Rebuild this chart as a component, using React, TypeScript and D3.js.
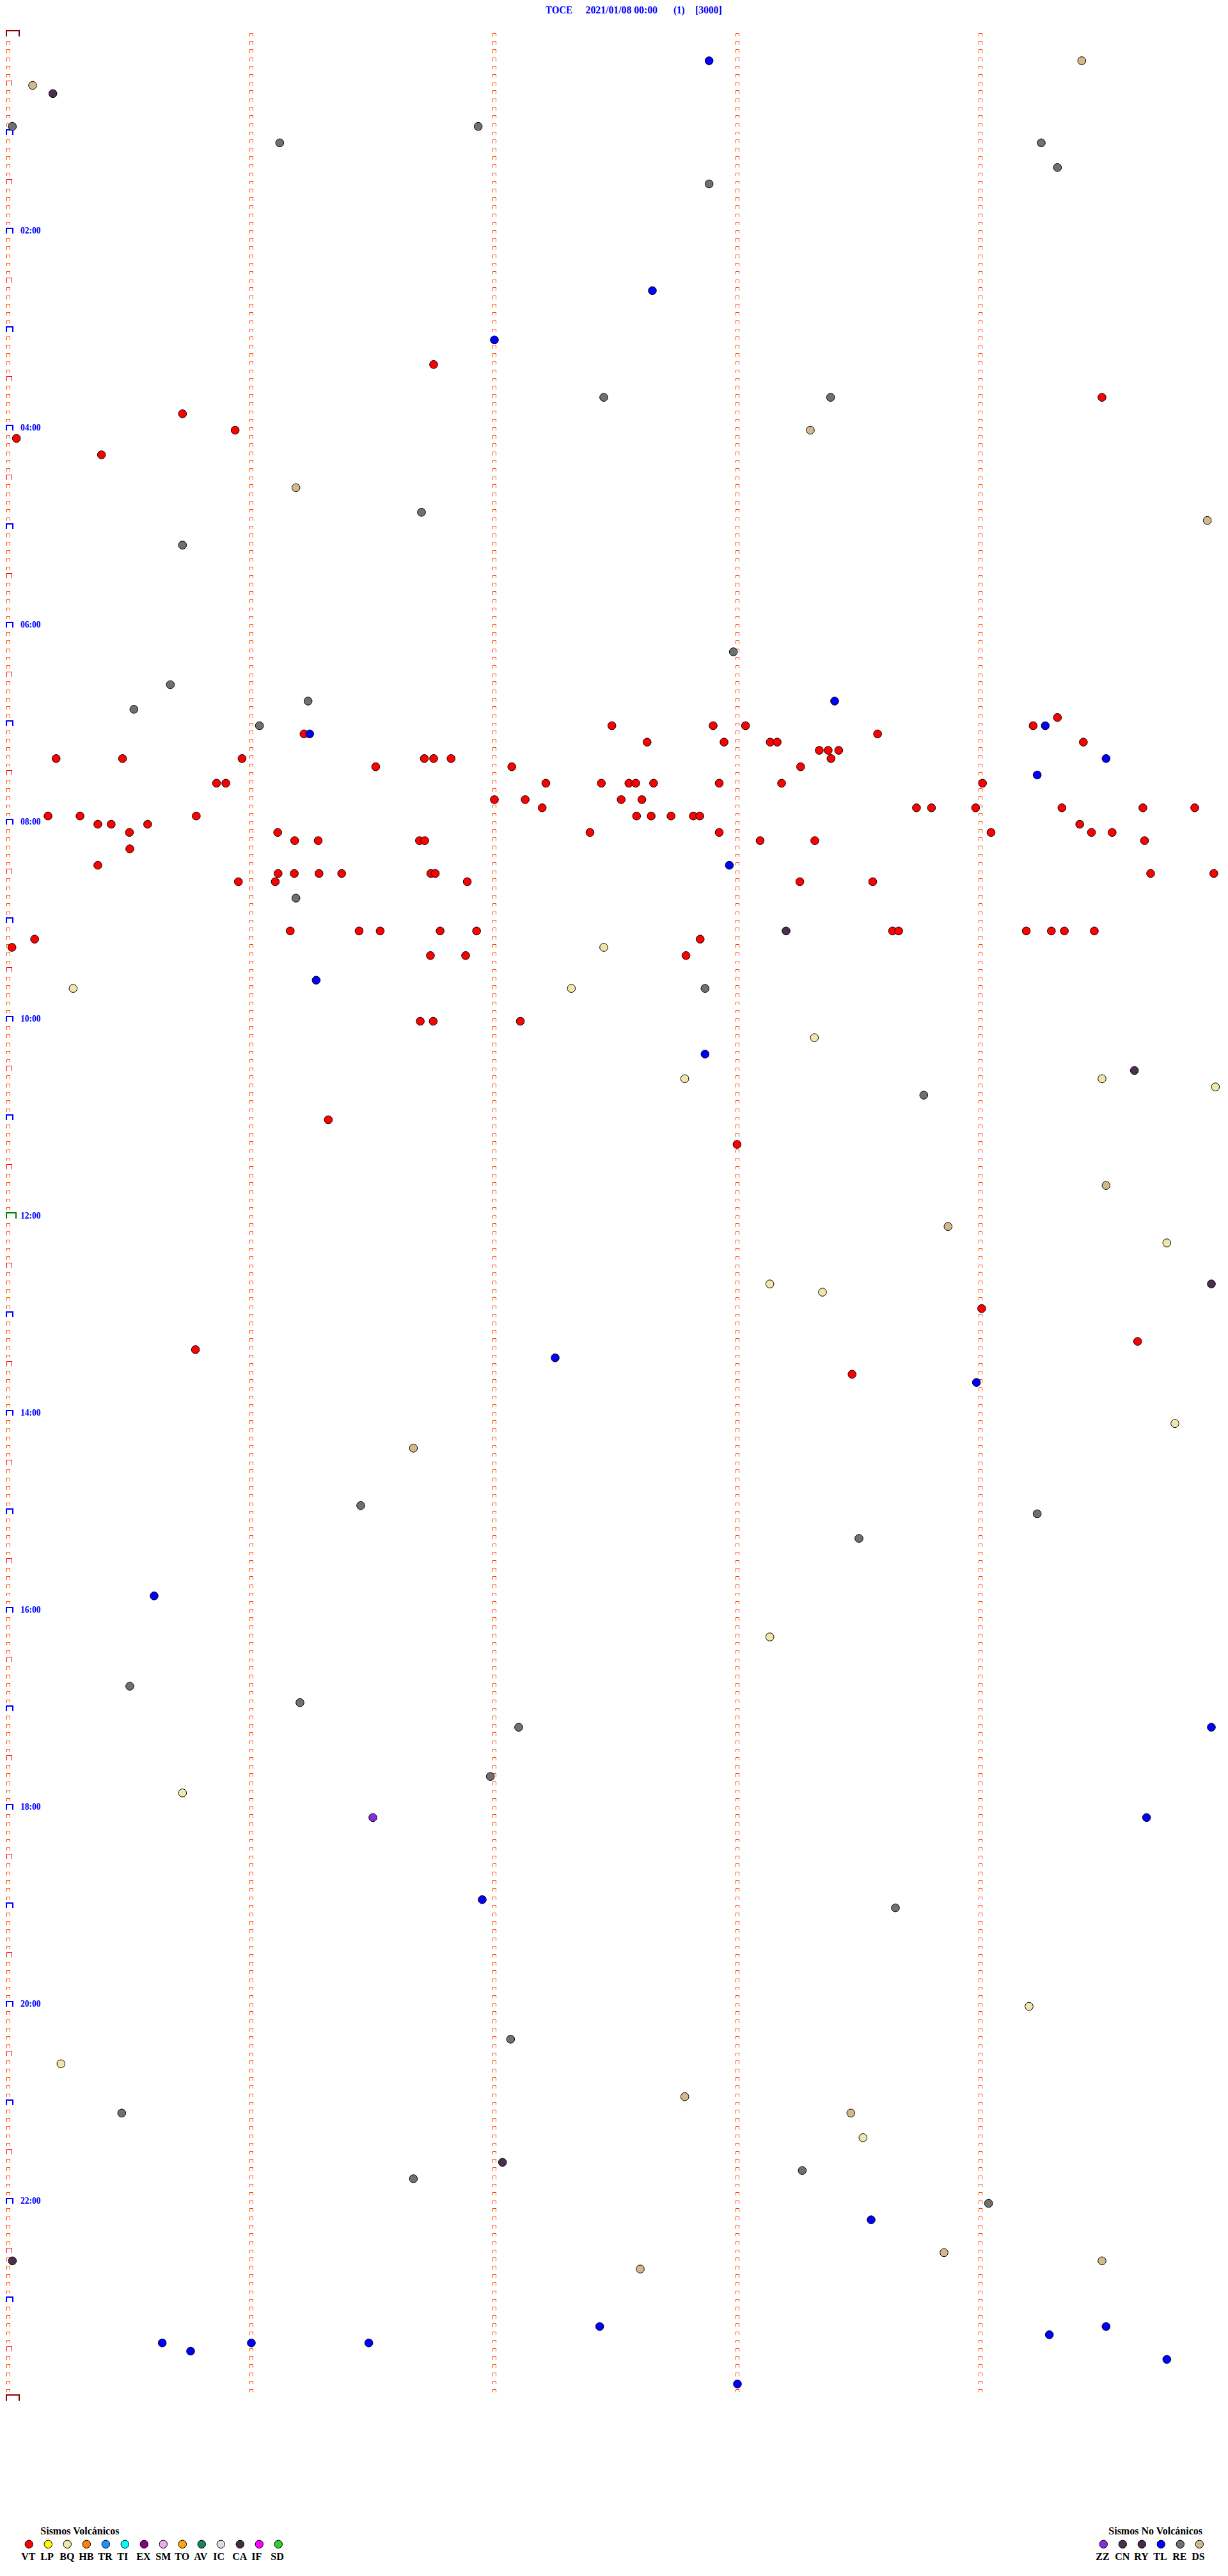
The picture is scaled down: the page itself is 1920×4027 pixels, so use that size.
import React from "react";
import * as d3 from "d3";

// ---------- Title ----------
const TITLE_PARTS = ["TOCE", "2021/01/08 00:00", "(1)", "[3000]"];

// ---------- Legend ----------
const VOLC_TYPES = ["VT", "LP", "BQ", "HB", "TR", "TI", "EX", "SM", "TO", "AV", "IC", "CA", "IF", "SD"];
const VOLC_COLORS = ["#ff0000", "#ffff00", "#f0e6a8", "#ff8000", "#1e90ff", "#00ffff", "#8b008b", "#eeaaee", "#ffa500", "#1e8060", "#dcdcdc", "#4b2a4b", "#ff00ff", "#32cd32"];
const NOVOLC_TYPES = ["ZZ", "CN", "RY", "TL", "RE", "DS"];
const NOVOLC_COLORS = ["#8a2be2", "#4a304a", "#4a2850", "#0000ff", "#707070", "#d2b98c"];

// ---------- Axis labels ----------
const HOUR_LABELS = ["02:00", "04:00", "06:00", "08:00", "10:00", "12:00", "14:00", "16:00", "18:00", "20:00", "22:00"];

// ---------- Events (time of day) ----------
const VT = [
  "03:21:45", "03:44:30", "03:50:43", "04:00:56", "04:05:02", "04:15:23",
  "06:59:19",
  "07:02:29", "07:02:54", "07:03:02", "07:04:13",
  "07:06:13", "07:08:34.6",
  "07:12:37.7", "07:12:56.7", "07:13:08.1", "07:13:09.8", "07:14:25.4",
  "07:18:20.2", "07:18:22.4", "07:18:25",
  "07:20:11.8", "07:20:28.2", "07:20:57.7", "07:21:42.7", "07:21:45", "07:21:49.3", "07:23:23.1",
  "07:26:30.7", "07:27:04.3", "07:28:15.6",
  "07:35:51.4", "07:35:53.7", "07:37:12.7", "07:37:26.4", "07:37:33.2", "07:37:34.9", "07:37:39.3", "07:37:55.5", "07:38:10.9", "07:39:00.5",
  "07:47:00", "07:47:07.6", "07:47:31.3", "07:47:36.4",
  "07:52:11.8", "07:53:44.2", "07:53:47.9", "07:53:58.8", "07:54:20.1", "07:54:40.1", "07:54:52.9",
  "07:55:09.8", "07:55:17.7", "07:55:46.4", "07:57:35.1", "07:57:38.7", "07:57:43.6", "07:57:49.1", "07:57:50.7",
  "08:00:22.1", "08:00:25.4", "08:00:34.4", "08:04:24.5",
  "08:05:29.9", "08:06:06.5", "08:07:23.6", "08:07:55.5", "08:09:02.6", "08:09:27.4", "08:09:32.5",
  "08:11:10.7", "08:11:16.5", "08:11:41.5", "08:11:42.8", "08:13:05.6", "08:13:19.1", "08:14:40.5",
  "08:15:30",
  "08:25:22.1",
  "08:31:06.6", "08:31:10.6", "08:31:16.7", "08:31:22.3", "08:31:44.3", "08:31:45.4", "08:34:42", "08:34:57.6",
  "08:35:56.8", "08:36:05.9", "08:36:53.3", "08:38:15.4", "08:38:33.4",
  "09:06:09.6", "09:06:26.6", "09:06:31.8", "09:06:46.6", "09:06:55.6", "09:08:38.3", "09:08:39.8", "09:09:11.3", "09:09:17.5", "09:09:20.7", "09:09:28.1",
  "09:10:06.5", "09:12:50.8",
  "09:15:00.9",
  "09:21:44.2", "09:21:52.9", "09:22:47.3",
  "10:01:41.7", "10:01:44.9", "10:02:06.4",
  "11:01:19", "11:17:59.9", "12:59:00.3", "13:19:38.8", "13:20:46.2", "13:38:28.3",
];

const BQ = [
  "09:17:27", "09:40:16", "09:42:19", "10:13:19", "10:37:47", "10:39:30", "10:44:58",
  "12:19:46", "12:43:08", "12:48:21", "14:09:48", "16:18:08", "17:50:43",
  "20:04:12", "20:35:13", "21:23:31",
];

const RE = [
  "00:55:01", "00:56:56", "01:06:07", "01:09:15", "01:24:19", "01:32:53",
  "03:42:27", "03:43:23", "04:51:42", "05:10:43", "06:17:59", "06:35:40",
  "06:46:14", "06:50:31", "07:01:02", "08:46:11", "09:42:52", "10:48:46",
  "14:56:27", "15:04:14", "15:18:30", "16:45:30", "16:56:12", "17:12:06",
  "17:41:59", "19:03:39", "20:22:04", "21:05:28", "21:43:16", "21:46:40", "22:04:02",
];

const DS = [
  "00:19:25", "00:30:06", "04:03:18", "04:36:11", "04:59:56", "11:44:31",
  "12:08:52", "14:21:40", "20:57:47", "21:08:28", "22:33:51", "22:39:30", "22:42:36",
];

const TL = [
  "00:17:53", "02:37:39", "03:07:00", "06:48:24", "07:04:16", "07:06:14.4",
  "07:24:31", "07:34:14", "08:27:58", "09:36:16", "10:22:52", "13:27:15",
  "13:43:59", "15:50:36", "17:14:57", "18:09:41", "18:56:57", "22:13:33",
  "23:17:26", "23:19:31", "23:24:17", "23:25:38", "23:26:00", "23:26:29",
  "23:30:45", "23:39:46", "23:53:00",
];

const CN = ["00:35:11", "09:08:12", "10:34:38", "12:44:57", "21:37:02", "22:35:01"];

const ZZ = ["18:06:30"];

// ---------- helpers ----------
const FONT = "'Liberation Serif', 'DejaVu Serif', 'Times New Roman', serif";
const ROWS = 288; // 5-minute rows in a day
const ROW_SEC = 300;

const parseT = (t: string) => {
  const [h, m, s] = t.split(":").map(Number);
  return h * 3600 + m * 60 + (s || 0);
};

const yScale = d3.scaleLinear().domain([0, ROWS]).range([57, 3753]);
const xScale = d3.scaleLinear().domain([0, ROW_SEC]).range([13, 1913]);

const SERIES: { data: string[]; color: string }[] = [
  { data: VT, color: VOLC_COLORS[0] },
  { data: BQ, color: VOLC_COLORS[2] },
  { data: RE, color: NOVOLC_COLORS[4] },
  { data: DS, color: NOVOLC_COLORS[5] },
  { data: CN, color: NOVOLC_COLORS[1] },
  { data: ZZ, color: NOVOLC_COLORS[0] },
  { data: TL, color: NOVOLC_COLORS[3] },
];

function markFor(k: number, cx: number, left: boolean) {
  const y = yScale(k);
  if (left) {
    if (k === 0 || k === ROWS) {
      return { d: `M${cx - 3},${y} V${y - 9} H${cx + 17} V${y}`, stroke: "#8b0000", w: 2 };
    }
    if (k === 144) {
      return { d: `M${cx - 3},${y} V${y - 9} H${cx + 11.7} V${y}`, stroke: "#008000", w: 2 };
    }
    if (k % 12 === 0) {
      return { d: `M${cx - 3},${y} V${y - 8} H${cx + 6.7} V${y}`, stroke: "#0000ff", w: 2 };
    }
    if (k % 6 === 0) {
      return { d: `M${cx - 2.5},${y} V${y - 7.5} H${cx + 5.3} V${y}`, stroke: "#ff0000", w: 1 };
    }
  }
  return { d: `M${cx - 2.5},${y} V${y - 5} H${cx + 2.5} V${y}`, stroke: "#ff4500", w: 1 };
}

export default function App() {
  const columns = d3.range(0, 5).map((c) => xScale(c * 60));
  const marks: { d: string; stroke: string; w: number }[] = [];
  columns.forEach((cx, ci) => {
    const last = ci === 0 ? ROWS : ROWS - 1;
    for (let k = 0; k <= last; k++) marks.push(markFor(k, cx, ci === 0));
  });

  const titleX = [853, 915.5, 1053, 1087];
  const titleW = [42, 112.5, 17.5, 41.6];

  return (
    <div>
      <style>{"body{margin:0;background:#fff}"}</style>
      <svg width={1920} height={4027} style={{ display: "block" }} fontFamily={FONT}>
        <rect width={1920} height={4027} fill="#ffffff" />
        {/* Title */}
        {TITLE_PARTS.map((t, i) => (
          <text key={t} x={titleX[i]} y={21} fontSize={17} fontWeight="bold" fill="#0000ff"
            textLength={titleW[i]} lengthAdjust="spacingAndGlyphs">{t}</text>
        ))}
        {/* Row marks */}
        {marks.map((m, i) => (
          <path key={i} d={m.d} fill="none" stroke={m.stroke} strokeWidth={m.w} shapeRendering="crispEdges" />
        ))}
        {/* Hour labels */}
        {HOUR_LABELS.map((l) => {
          const [h] = l.split(":").map(Number);
          return (
            <text key={l} x={32} y={yScale(h * 12) - 0.5} fontSize={13.6} fontWeight="bold" fill="#0000ff"
              textLength={31.5} lengthAdjust="spacingAndGlyphs">{l}</text>
          );
        })}
        {/* Events */}
        {SERIES.map((s, si) => (
          <g key={si}>
            {s.data.map((t, i) => {
              const sec = parseT(t);
              const row = Math.floor(sec / ROW_SEC);
              const within = sec - row * ROW_SEC;
              return (
                <circle key={i} cx={xScale(within)} cy={yScale(row) - 0.5} r={6.3}
                  fill={s.color} stroke="#000" strokeWidth={1} />
              );
            })}
          </g>
        ))}
        {/* Legend: volcanic */}
        <text x={63.3} y={3962} fontSize={16} fontWeight="bold" fill="#000">Sismos Volcánicos</text>
        {VOLC_TYPES.map((t, i) => {
          const cx = 45.3 + i * 30;
          return (
            <g key={t}>
              <circle cx={cx} cy={3977.3} r={6.2} fill={VOLC_COLORS[i]} stroke="#000" strokeWidth={1} />
              <text x={cx - 12} y={4001.7} fontSize={16} fontWeight="bold" fill="#000">{t}</text>
            </g>
          );
        })}
        {/* Legend: non-volcanic */}
        <text x={1733.3} y={3962} fontSize={16} fontWeight="bold" fill="#000">Sismos No Volcánicos</text>
        {NOVOLC_TYPES.map((t, i) => {
          const cx = 1725.3 + i * 30;
          return (
            <g key={t}>
              <circle cx={cx} cy={3977.3} r={6.2} fill={NOVOLC_COLORS[i]} stroke="#000" strokeWidth={1} />
              <text x={cx - 12} y={4001.7} fontSize={16} fontWeight="bold" fill="#000">{t}</text>
            </g>
          );
        })}
      </svg>
    </div>
  );
}
